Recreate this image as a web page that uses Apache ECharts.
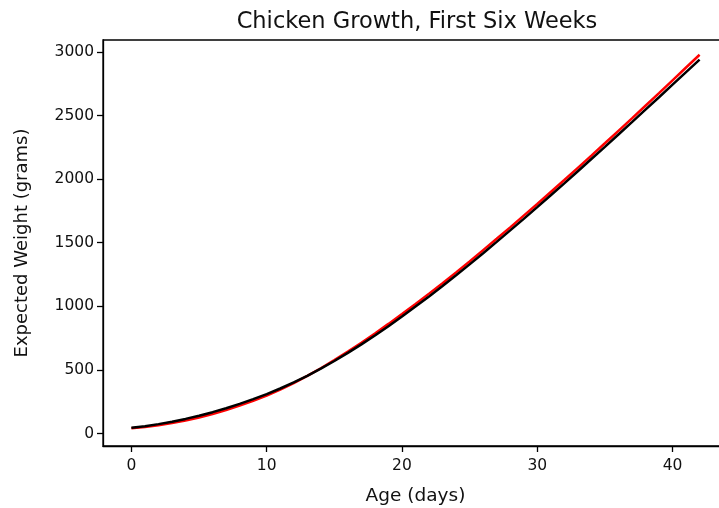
<!DOCTYPE html>
<html>
<head>
<meta charset="utf-8">
<script src="https://cdn.jsdelivr.net/npm/echarts@6/dist/echarts.min.js"></script>
<style>
html,body{margin:0;padding:0;background:#fff;}
#chart{width:719px;height:508px;}
</style>
</head>
<body>
<div id="chart"></div>
<script>
const days = [0,1,2,3,4,5,6,7,8,9,10,11,12,13,14,15,16,17,18,19,20,21,22,23,24,25,26,27,28,29,30,31,32,33,34,35,36,37,38,39,40,41,42];
const expectedWeight = [45,58,74,93,115,140,168,199,233,270,310,354,402,454,510,570,634,701,771,844,920,998,1078,1160,1244,1330,1418,1507,1597,1688,1780,1873,1967,2062,2158,2254,2351,2448,2546,2644,2743,2842,2940];
const fittedWeight = [42,52,65,82,102,126,153,184,219,257,299,346,397,453,513,577,644,714,787,862,940,1019,1100,1182,1267,1353,1442,1531,1621,1713,1805,1899,1993,2089,2185,2282,2380,2478,2577,2676,2777,2878,2978];
const xTicks = [0,10,20,30,40];
const yTicks = [0,500,1000,1500,2000,2500,3000];
const titleText = 'Chicken Growth, First Six Weeks';
const xName = 'Age (days)';
const yName = 'Expected Weight (grams)';

const font = 'DejaVu Sans';
const chart = echarts.init(document.getElementById('chart'), null, {renderer:'canvas'});
chart.setOption({
  animation:false,
  backgroundColor:'#ffffff',
  title:{text:titleText,left:412,textAlign:'center',top:6,
    textStyle:{fontFamily:font,fontSize:22.5,fontWeight:'normal',color:'#111'}},
  grid:{left:103,top:40,right:-9,bottom:62,outerBoundsMode:'none',containLabel:false,show:true,borderColor:'#000',borderWidth:1.3,backgroundColor:'transparent'},
  xAxis:{type:'value',min:-2.1,max:44.1,
    name:xName,nameLocation:'middle',nameGap:41,
    nameTextStyle:{fontFamily:font,fontSize:18.5,color:'#111'},
    axisLine:{show:true,onZero:false,lineStyle:{color:'#000',width:1.3}},
    axisTick:{show:true,inside:false,length:6,customValues:xTicks,lineStyle:{color:'#000',width:1.3}},
    axisLabel:{customValues:xTicks,margin:12,fontFamily:font,fontSize:15.5,color:'#111',formatter:v=>String(v)},
    splitLine:{show:false}},
  yAxis:{type:'value',min:-98,max:3094,
    name:yName,nameLocation:'middle',nameGap:72,
    nameTextStyle:{fontFamily:font,fontSize:18,color:'#111'},
    axisLine:{show:true,onZero:false,lineStyle:{color:'#000',width:1.3}},
    axisTick:{show:true,inside:false,length:6,customValues:yTicks,lineStyle:{color:'#000',width:1.3}},
    axisLabel:{customValues:yTicks,margin:9,fontFamily:font,fontSize:15.5,color:'#111',formatter:v=>String(v)},
    splitLine:{show:false}},
  series:[
    {type:'line',data:days.map((d,i)=>[d,fittedWeight[i]]),symbol:'none',
      lineStyle:{color:'#ff0000',width:2.5},itemStyle:{color:'#ff0000'},z:2},
    {type:'line',data:days.map((d,i)=>[d,expectedWeight[i]]),symbol:'none',
      lineStyle:{color:'#000000',width:2.5},itemStyle:{color:'#000000'},z:3}
  ]
});
</script>
</body>
</html>
